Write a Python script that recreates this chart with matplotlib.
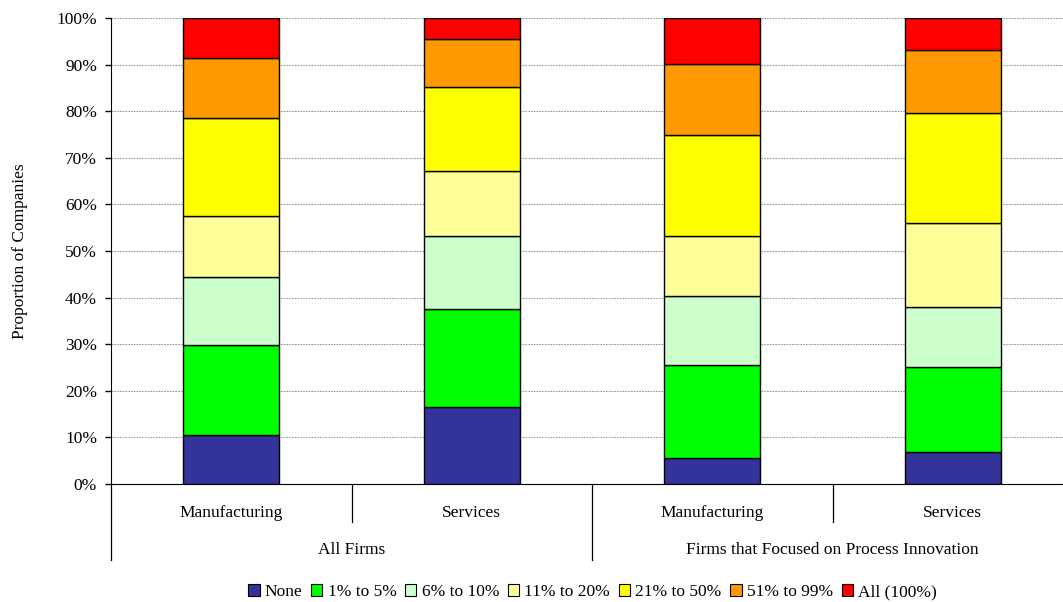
import matplotlib
matplotlib.use("Agg")
import matplotlib.pyplot as plt
import matplotlib.transforms as mtransforms
from matplotlib.patches import Patch
import numpy as np

plt.rcParams['font.family'] = ['Liberation Serif', 'DejaVu Serif']

groups = ["All Firms", "Firms that Focused on Process Innovation"]
sectors = ["Manufacturing", "Services", "Manufacturing", "Services"]
series = ["None", "1% to 5%", "6% to 10%", "11% to 20%", "21% to 50%", "51% to 99%", "All (100%)"]
none_v = [10.6, 16.5, 5.6, 6.8]
p1_5 = [19.2, 21.0, 19.9, 18.4]
p6_10 = [14.7, 15.7, 14.8, 12.8]
p11_20 = [13.1, 14.0, 12.9, 18.1]
p21_50 = [20.9, 18.1, 21.7, 23.6]
p51_99 = [12.9, 10.2, 15.3, 13.5]
all_v = [8.6, 4.5, 9.8, 6.8]
colors = ["#333399", "#00FF00", "#CCFFCC", "#FFFF99", "#FFFF00", "#FF9900", "#FF0000"]

values = [none_v, p1_5, p6_10, p11_20, p21_50, p51_99, all_v]

fs = 12.5

fig = plt.figure(figsize=(10.63, 6.02), dpi=100)
ax = fig.add_axes([111/1063, (602-484)/602, (1073-111)/1063, (484-18)/602])

x = np.arange(len(sectors))
bottom = np.zeros(len(sectors))
for vals, col, name in zip(values, colors, series):
    ax.bar(x, vals, width=0.4, bottom=bottom, color=col, edgecolor="black", linewidth=1.0, label=name, zorder=3)
    bottom += np.array(vals)

ax.set_xlim(-0.5, 3.5)
ax.set_ylim(0, 100)
ax.set_yticks(np.arange(0, 101, 10))
ax.set_yticklabels([f"{v}%" for v in range(0, 101, 10)], fontsize=fs)
ax.yaxis.grid(True, color="#999999", linestyle=(0, (1.5, 1)), linewidth=0.8, zorder=0)
ax.set_axisbelow(True)
ax.tick_params(axis='y', direction='out', length=4, width=1, color='black', pad=6)
ax.set_xticks([])
for s in ['top', 'right']:
    ax.spines[s].set_visible(False)
ax.spines['left'].set_color('black')
ax.spines['bottom'].set_color('black')
ax.set_ylabel("Proportion of Companies", fontsize=fs)
ax.yaxis.set_label_coords((28 - 111) / 962, 0.5)

trans = mtransforms.blended_transform_factory(ax.transData, ax.transAxes)
long_y = -(560 - 484) / 466
short_y = -(522 - 484) / 466
for xv in [-0.5, 1.5, 3.5]:
    ax.plot([xv, xv], [0, long_y], color='black', lw=0.9, transform=trans, clip_on=False)
for xv in [0.5, 2.5]:
    ax.plot([xv, xv], [0, short_y], color='black', lw=0.9, transform=trans, clip_on=False)

lab_y = -(513 - 484) / 466
grp_y = -(550 - 484) / 466
for xi, s in zip(x, sectors):
    ax.text(xi, lab_y, s, transform=trans, ha='center', va='center', fontsize=fs)
for gi, g in enumerate(groups):
    ax.text(0.5 + 2 * gi, grp_y, g, transform=trans, ha='center', va='center', fontsize=fs)

handles = [Patch(facecolor=c, edgecolor='black', linewidth=0.8) for c in colors]
fig.legend(handles, series, loc='center', bbox_to_anchor=(592.5/1063, 1 - 592/602), ncol=7,
           frameon=False, fontsize=fs, handlelength=0.65, handleheight=0.65,
           handletextpad=0.3, columnspacing=0.5, borderaxespad=0)

fig.savefig("out.png", dpi=100)
